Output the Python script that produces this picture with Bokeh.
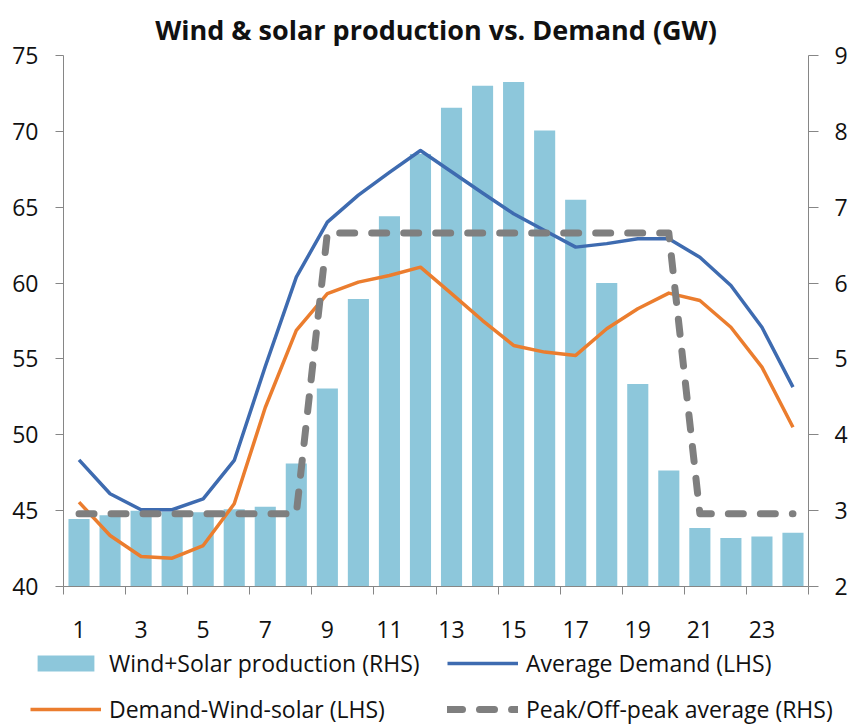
from bokeh.plotting import figure
from bokeh.models import Range1d, LinearAxis, FixedTicker, Legend, LegendItem
from bokeh.embed import file_html
from bokeh.resources import INLINE

# ---- data ----
hours = list(range(1, 25))
wind_solar_rhs = [2.89, 2.94, 3.00, 2.99, 2.98, 3.02, 3.05, 3.62, 4.61, 5.79, 6.88, 7.70,
                  8.31, 8.60, 8.65, 8.01, 7.10, 6.00, 4.67, 3.53, 2.77, 2.64, 2.66, 2.71]
avg_demand_lhs = [48.35, 46.11, 45.06, 45.06, 45.78, 48.31, 54.5, 60.39, 64.02, 65.8, 67.3, 68.74,
                  67.34, 65.94, 64.57, 63.47, 62.37, 62.6, 62.92, 62.92, 61.7, 59.84, 57.09, 53.14]
demand_net_lhs = [45.56, 43.36, 41.98, 41.87, 42.7, 45.45, 51.8, 56.88, 59.3, 60.06, 60.5, 61.05,
                  59.3, 57.53, 55.89, 55.45, 55.23, 56.99, 58.31, 59.34, 58.85, 57.09, 54.46, 50.5]
peak_offpeak_rhs = [2.96] * 8 + [6.66] * 12 + [2.96] * 4
left_ticks = [40, 45, 50, 55, 60, 65, 70, 75]
right_ticks = [2, 3, 4, 5, 6, 7, 8, 9]
x_label_hours = [1, 3, 5, 7, 9, 11, 13, 15, 17, 19, 21, 23]
x_tick_marks = [0.5 + 2 * i for i in range(13)]

title_text = "Wind & solar production vs. Demand (GW)"
labels = ["Wind+Solar production (RHS)", "Average Demand (LHS)",
          "Demand-Wind-solar (LHS)", "Peak/Off-peak average (RHS)"]

FONT = "Open Sans"
TXT = "#111111"
AXC = "#868686"
C_BAR = "#8DC7DB"
C_AVG = "#3E6BB0"
C_NET = "#EB7D2E"
C_PEAK = "#7F7F7F"

W = 850
H_MAIN = 647
H_LEG = 80

p = figure(width=W, height=H_MAIN, output_backend="svg", toolbar_location=None,
           x_range=Range1d(0.5, 24.5), y_range=Range1d(40, 75),
           x_axis_type=None, y_axis_type=None,
           min_border_left=63, min_border_right=42, min_border_top=55, min_border_bottom=61)
p.outline_line_color = None
p.background_fill_color = "white"
p.border_fill_color = "white"
p.extra_y_ranges = {"right": Range1d(2, 9)}

p.title.text = title_text
p.title.align = "center"
p.title.text_font = FONT
p.title.text_font_size = "27px"
p.title.text_font_style = "bold"
p.title.text_color = TXT
p.title.standoff = 15


def style_axis(ax, tick_out=8, standoff=17, size="23px"):
    ax.axis_line_color = AXC
    ax.axis_line_width = 1
    ax.major_tick_line_color = AXC
    ax.major_tick_out = tick_out
    ax.major_tick_in = 0
    ax.minor_tick_line_color = None
    ax.major_label_text_font = FONT
    ax.major_label_text_font_size = size
    ax.major_label_text_color = TXT
    ax.major_label_standoff = standoff


left = LinearAxis(ticker=FixedTicker(ticks=left_ticks))
style_axis(left, standoff=17)
p.add_layout(left, "left")

right = LinearAxis(y_range_name="right", ticker=FixedTicker(ticks=right_ticks))
style_axis(right, tick_out=10, standoff=16)
p.add_layout(right, "right")

# tick marks between every second hour (no labels)
xticks_axis = LinearAxis(ticker=FixedTicker(ticks=x_tick_marks))
style_axis(xticks_axis, standoff=0, size="0px")
xticks_axis.major_label_text_color = None
p.add_layout(xticks_axis, "below")

# hour labels centred under the odd hours (no tick marks)
xlabels_axis = LinearAxis(ticker=FixedTicker(ticks=x_label_hours))
style_axis(xlabels_axis, tick_out=0, standoff=26)
xlabels_axis.axis_line_color = None
xlabels_axis.major_tick_line_color = None
p.add_layout(xlabels_axis, "below")

p.vbar(x=hours, top=wind_solar_rhs, bottom=2, width=0.68, y_range_name="right",
       fill_color=C_BAR, line_color=None)
p.line(hours, avg_demand_lhs, line_color=C_AVG, line_width=3.5, line_join="round")
p.line(hours, demand_net_lhs, line_color=C_NET, line_width=3.5, line_join="round")
p.line(hours, peak_offpeak_rhs, y_range_name="right", line_color=C_PEAK,
       line_width=7, line_dash="15 17", line_cap="round", line_join="round")

# ---- legend strip under the chart: same series, drawn outside its visible range ----
pl = figure(width=W, height=H_LEG, output_backend="svg", toolbar_location=None,
            x_range=Range1d(-3, -2), y_range=Range1d(0, 1),
            x_axis_type=None, y_axis_type=None,
            min_border_left=30, min_border_right=0, min_border_top=0, min_border_bottom=0)
pl.outline_line_color = None
pl.background_fill_color = "white"
pl.border_fill_color = "white"

g_bar = pl.vbar(x=hours, top=wind_solar_rhs, width=0.68, fill_color=C_BAR, line_color=None)
g_avg = pl.line(hours, avg_demand_lhs, line_color=C_AVG, line_width=3.5)
g_net = pl.line(hours, demand_net_lhs, line_color=C_NET, line_width=3.5)
g_peak = pl.line(hours, peak_offpeak_rhs, line_color=C_PEAK, line_width=7,
                 line_dash="15 17", line_cap="round")

# column-major fill: first column = items 0,2 ; second column = items 1,3
legend = Legend(items=[LegendItem(label=labels[0], renderers=[g_bar]),
                       LegendItem(label=labels[2], renderers=[g_net]),
                       LegendItem(label=labels[1], renderers=[g_avg]),
                       LegendItem(label=labels[3], renderers=[g_peak])],
                ncols=2, location="top_left",
                label_text_font=FONT, label_text_font_size="23px", label_text_color=TXT,
                glyph_width=71, glyph_height=20, label_height=27, label_width=324,
                label_standoff=8, spacing=14,
                padding=0, margin=0, border_line_color=None, background_fill_alpha=0)
pl.add_layout(legend, "center")

open("out.html", "w").write(file_html([p, pl], INLINE))
